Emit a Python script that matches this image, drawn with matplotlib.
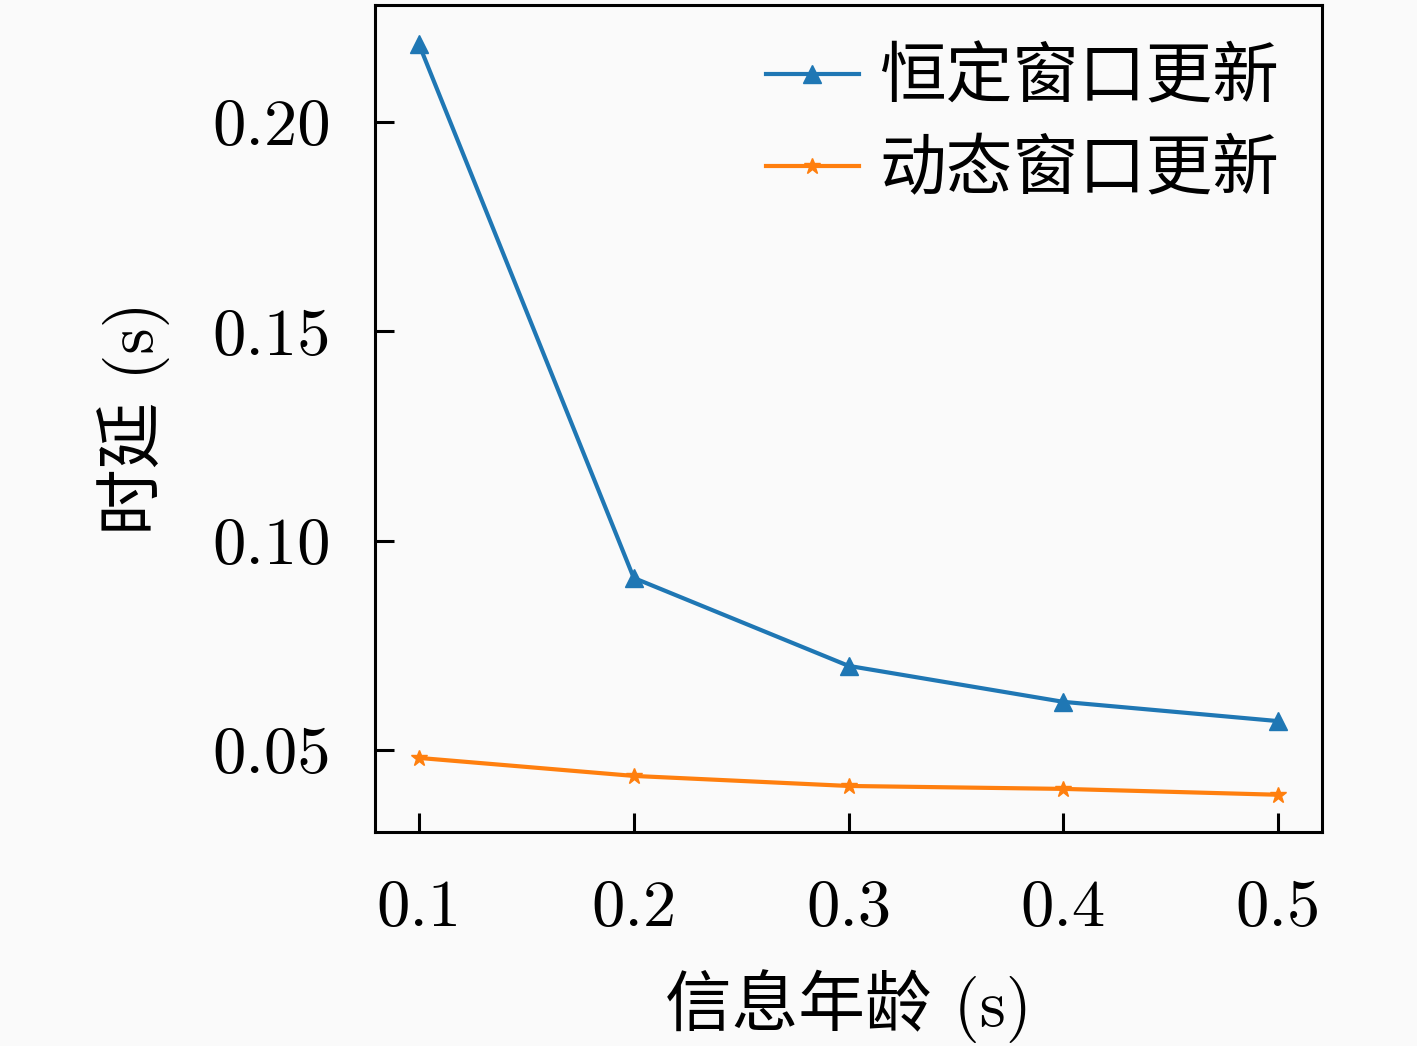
import matplotlib
matplotlib.use("Agg")
import matplotlib.pyplot as plt

# fonts: Computer Modern for digits, CJK for the Chinese text
plt.rcParams['font.family'] = ['cmr10', 'Noto Sans CJK SC']
plt.rcParams['axes.formatter.use_mathtext'] = True
plt.rcParams['axes.unicode_minus'] = False

# data
aoi = [0.1, 0.2, 0.3, 0.4, 0.5]
delay_fixed = [0.2186, 0.0911, 0.0701, 0.0615, 0.0569]
delay_dynamic = [0.0481, 0.0438, 0.0414, 0.0407, 0.0393]
x_ticks = [0.1, 0.2, 0.3, 0.4, 0.5]
x_tick_labels = ['0.1', '0.2', '0.3', '0.4', '0.5']
y_ticks = [0.05, 0.10, 0.15, 0.20]
y_tick_labels = ['0.05', '0.10', '0.15', '0.20']

fig = plt.figure(figsize=(14.17, 10.46), dpi=100, facecolor='#fafafa')
ax = fig.add_axes([375/1417, 1 - 832/1046, (1322-375)/1417, (832-5)/1046])
ax.set_facecolor('#fafafa')

ax.plot(aoi, delay_fixed, color='#1f77b4', marker='^', markersize=13,
        linewidth=3, label='恒定窗口更新')
ax.plot(aoi, delay_dynamic, color='#ff7f0e', marker='*', markersize=12,
        linewidth=3, label='动态窗口更新')

ax.set_xlim(0.0795, 0.5205)
ax.set_ylim(0.0304, 0.228)
ax.set_xticks(x_ticks)
ax.set_xticklabels(x_tick_labels)
ax.set_yticks(y_ticks)
ax.set_yticklabels(y_tick_labels)
ax.tick_params(direction='in', length=14, width=2.2, labelsize=48)
ax.tick_params(axis='y', pad=32)
ax.tick_params(axis='x', pad=34)
for s in ax.spines.values():
    s.set_linewidth(2.2)

ax.set_xlabel('信息年龄 (s)', fontsize=48, labelpad=22)
ax.set_ylabel('时延 (s)', fontsize=48, labelpad=30)

ax.legend(loc='upper right', frameon=False, fontsize=48, handlelength=1.4,
          handletextpad=0.3, borderaxespad=0.25, labelspacing=0.45)

fig.savefig('out.png', dpi=100, facecolor=fig.get_facecolor())
